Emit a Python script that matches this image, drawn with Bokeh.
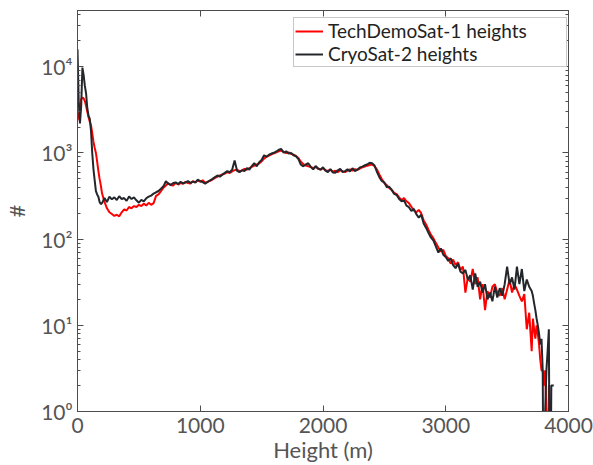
from bokeh.plotting import figure
from bokeh.models import (LogAxis, LinearAxis, LogTicker, FixedTicker, Legend,
                          LegendItem, Range1d, ColumnDataSource, CustomLabelingPolicy)
from bokeh.embed import file_html
from bokeh.resources import INLINE

# Height bins (m)
heights = list(range(0, 200, 10)) + list(range(200, 3700, 20)) + list(range(3700, 3890, 10))

# TechDemoSat-1 height histogram counts
tds_counts = [
    2400, 2700, 3300, 4200, 4400, 4300, 4000, 3500, 3000, 2600,
    2300, 2100, 1700, 1350, 1150, 1000, 800, 620, 500, 420,
    340, 270, 228, 205, 196, 186, 192, 184, 205, 222,
    215, 236, 228, 242, 236, 250, 242, 258, 246, 264,
    250, 262, 318, 330, 360, 395, 420, 445, 425, 418,
    452, 430, 448, 440, 462, 448, 442, 470, 458, 480,
    465, 482, 452, 462, 475, 492, 515, 530, 548, 562,
    575, 600, 585, 612, 632, 640, 612, 628, 652, 640,
    668, 690, 712, 735, 752, 800, 860, 905, 930, 962,
    990, 1020, 1045, 1065, 1030, 1000, 1015, 975, 955, 925,
    870, 790, 740, 715, 700, 688, 665, 690, 655, 640,
    665, 632, 620, 640, 605, 622, 598, 632, 615, 600,
    622, 645, 625, 650, 635, 660, 680, 695, 712, 725,
    735, 700, 640, 560, 495, 445, 425, 390, 372, 345,
    332, 305, 285, 300, 275, 262, 238, 215, 205, 218,
    200, 165, 148, 128, 112, 102, 90, 80, 72, 75,
    64, 60, 52, 58, 50, 54, 44, 48, 24, 36,
    32, 45, 30, 36, 20, 30, 15, 25, 21, 28,
    30, 24, 22, 27, 20, 26, 34, 24, 30, 26,
    22, 19, 23, 9, 14,
    5, 12, 9, 7, 10, 8, 6, 4, 3, 3, 2, 3, 1, 0, 2, 0, 1, 0, 0,
]

# CryoSat-2 height histogram counts
cs2_counts = [
    16000, 4000, 2200, 3500, 9800, 8000, 6000, 4900, 3300, 2700,
    2500, 1800, 1000, 650, 480, 360, 330, 310, 270, 255,
    262, 300, 270, 312, 290, 305, 285, 315, 292, 300,
    278, 312, 292, 305, 282, 265, 285, 275, 298, 312,
    320, 338, 350, 362, 385, 410, 470, 440, 425, 448,
    455, 436, 462, 445, 455, 472, 450, 465, 452, 490,
    470, 458, 440, 462, 482, 500, 525, 548, 532, 560,
    588, 615, 598, 640, 820, 620, 598, 630, 618, 665,
    640, 705, 760, 700, 780, 830, 940, 905, 955, 985,
    1005, 1040, 1090, 1110, 1010, 1045, 985, 1000, 940, 915,
    850, 730, 700, 735, 760, 690, 645, 705, 660, 640,
    682, 625, 598, 650, 595, 590, 630, 652, 600, 615,
    645, 610, 665, 615, 640, 680, 695, 720, 735, 770,
    760, 715, 600, 520, 470, 455, 400, 405, 372, 335,
    325, 292, 275, 282, 245, 235, 212, 225, 195, 178,
    192, 152, 135, 118, 104, 96, 82, 70, 78, 66,
    62, 56, 60, 50, 46, 52, 42, 40, 44, 34,
    38, 26, 40, 28, 32, 24, 30, 20, 24, 19,
    28, 21, 27, 22, 30, 48, 30, 36, 26, 48,
    30, 45, 25, 34, 28,
    25, 22, 18, 15, 12, 10, 8, 6, 7, 3, 0, 1, 3, 5, 9, 0, 2, 2, 2,
]

x_ticks = [0, 1000, 2000, 3000, 4000]
y_tick_labels = {1: "10\u2070", 10: "10\u00b9", 100: "10\u00b2", 1000: "10\u00b3", 10000: "10\u2074"}

FONT = "Lato"
AX = "#4d4d4d"
LBL = "#555555"

def floor_zero(vals):
    # zero counts cannot sit on a log axis: push them below the frame
    return [v if v > 0 else 0.01 for v in vals]

src = ColumnDataSource(dict(h=heights, tds=floor_zero(tds_counts), cs2=floor_zero(cs2_counts)))

p = figure(width=593, height=465, y_axis_type="log",
           x_range=Range1d(0, 4000), y_range=Range1d(1, 45000),
           output_backend="svg", toolbar_location=None,
           min_border_left=75, min_border_right=25, min_border_top=10, min_border_bottom=54)
p.background_fill_color = "white"
p.border_fill_color = "white"
p.outline_line_color = AX
p.outline_line_width = 1
p.xgrid.visible = False
p.ygrid.visible = False

r1 = p.line("h", "tds", source=src, line_color="#ff0000", line_width=2)
r2 = p.line("h", "cs2", source=src, line_color="#23262b", line_width=2)

no_labels = CustomLabelingPolicy(code="return []")

def style_common(ax, labels):
    ax.axis_line_color = AX
    ax.major_tick_line_color = AX
    ax.major_tick_in = 6
    ax.major_tick_out = 0
    ax.major_label_text_font = FONT
    ax.major_label_text_color = LBL
    ax.major_label_text_font_size = "21px"
    if not labels:
        ax.major_label_policy = no_labels
        ax.major_label_standoff = 0
        ax.major_label_text_font_size = "1px"

def style_x(ax, labels=True):
    ax.ticker = FixedTicker(ticks=x_ticks)
    ax.minor_tick_line_color = None
    ax.major_label_standoff = 6
    style_common(ax, labels)

def style_y(ax, labels=True):
    ax.ticker = LogTicker(num_minor_ticks=10)
    ax.minor_tick_line_color = AX
    ax.minor_tick_in = 3
    ax.minor_tick_out = 0
    ax.major_label_standoff = 5
    ax.major_label_overrides = y_tick_labels
    style_common(ax, labels)

style_x(p.xaxis[0])
p.xaxis[0].axis_label = "Height (m)"
p.xaxis[0].axis_label_text_font = FONT
p.xaxis[0].axis_label_text_font_size = "22px"
p.xaxis[0].axis_label_text_font_style = "normal"
p.xaxis[0].axis_label_text_color = LBL
p.xaxis[0].axis_label_standoff = 0

style_y(p.yaxis[0])
p.yaxis[0].axis_label = "#"
p.yaxis[0].axis_label_text_font = FONT
p.yaxis[0].axis_label_text_font_size = "22px"
p.yaxis[0].axis_label_text_font_style = "normal"
p.yaxis[0].axis_label_text_color = LBL
p.yaxis[0].axis_label_standoff = 8

top_ax = LinearAxis()
style_x(top_ax, labels=False)
p.add_layout(top_ax, "above")

right_ax = LogAxis()
style_y(right_ax, labels=False)
p.add_layout(right_ax, "right")

legend = Legend(items=[LegendItem(label="TechDemoSat-1 heights", renderers=[r1]),
                       LegendItem(label="CryoSat-2 heights", renderers=[r2])],
                location=(216, 344))
legend.label_text_font = FONT
legend.label_text_font_size = "19px"
legend.label_text_color = "#222222"
legend.label_standoff = 5
legend.label_width = 237
legend.label_height = 20
legend.glyph_width = 28
legend.glyph_height = 20
legend.padding = 1
legend.spacing = 0
legend.margin = 0
legend.border_line_color = "#8f8f8f"
legend.border_line_width = 1
legend.background_fill_color = "white"
legend.background_fill_alpha = 1
p.add_layout(legend)

open("out.html", "w").write(file_html(p, INLINE))
